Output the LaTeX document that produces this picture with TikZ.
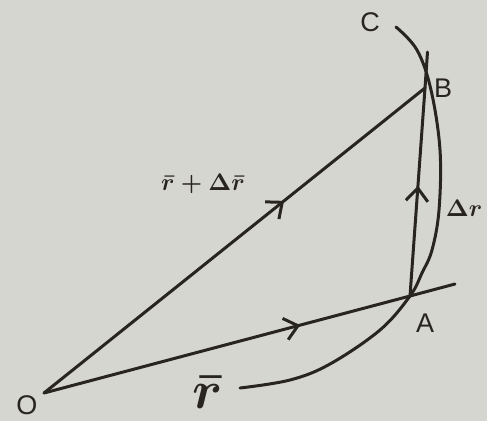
\documentclass[tikz,border=0pt]{standalone}
\usepackage{amsmath,amssymb}
\usepackage{graphicx}
\usepackage{fontspec}
\setmainfont{Liberation Sans}
\usepackage{tikz}
\usetikzlibrary{arrows.meta,decorations.markings,calc}
\definecolor{paper}{RGB}{214,214,208}
\definecolor{ink}{RGB}{40,36,32}
\tikzset{
  vecline/.style={ink, line width=3pt, line cap=round},
  midarrow/.style={postaction={decorate, decoration={markings,
      mark=at position #1 with {\arrow{Straight Barb[length=13pt, width=22pt, line width=3pt]}}}}},
  ptlabel/.style={ink, font=\fontsize{27}{30}\selectfont}
}
\begin{document}
\begin{tikzpicture}[x=1pt, y=-1pt]
  % Paper
  \fill[paper] (0,0) rectangle (487,421);
  \useasboundingbox (0,0) rectangle (487,421);
  % Points
  \coordinate (O) at (44,393);
  \coordinate (A) at (410,296);
  \coordinate (B) at (425,88);
  \coordinate (Aend) at (455,284);
  \coordinate (Bend) at (427.5,52);
  % The path of the particle
  \draw[vecline, smooth, tension=0.6] plot coordinates
    {(396,27) (417,50) (431,90) (440,150) (439,210) (432,250) (422,273)
     (A) (380,330) (330,364) (290,380) (240,388)};
  % Position vectors
  \draw[vecline, midarrow=0.7] (O) -- (A);
  \draw[vecline] (A) -- (Aend);
  \draw[vecline, midarrow=0.63] (O) -- (B);
  \draw[vecline, midarrow=0.53] (A) -- (B);
  \draw[vecline] (B) -- (Bend);
  % Labels
  \node[ptlabel] (lO) at (27,405) {O};
  \node[ptlabel] (lA) at (425,323) {A};
  \node[ptlabel] (lB) at (443,88) {B};
  \node[ptlabel] (lC) at (370,22) {C};
  \node[ink] (ldr) at (464,208) {\scalebox{2.4}{$\boldsymbol{\Delta r}$}};
  \node[ink] (lsum) at (203,184) {\scalebox{2.4}{$\boldsymbol{\bar{r}+\Delta\bar{r}}$}};
  \node[ink] (lr) at (208,392) {\scalebox{5.4}{$\boldsymbol{\bar{r}}$}};
\end{tikzpicture}
\end{document}
